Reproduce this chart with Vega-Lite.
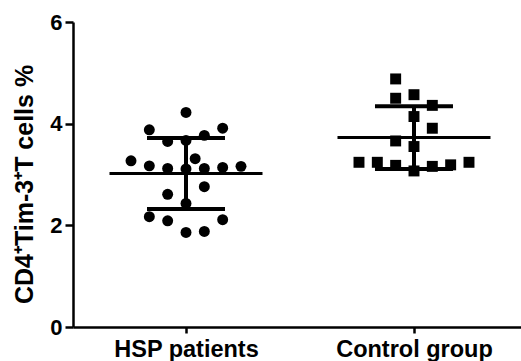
{
  "$schema": "https://vega.github.io/schema/vega-lite/v6.json",
  "width": 448,
  "height": 305,
  "autosize": {"type": "none"},
  "padding": {"left": 73, "top": 22, "right": 0, "bottom": 34},
  "background": "white",
  "config": {
    "view": {"stroke": null},
    "font": "Liberation Sans",
    "axis": {"domainColor": "black", "tickColor": "black", "labelColor": "black", "titleColor": "black", "grid": false, "labelFontWeight": "bold", "titleFontWeight": "bold"}
  },
  "data": {"values": [
    {"group": "HSP patients", "value": 4.22, "slot": 0},
    {"group": "HSP patients", "value": 3.88, "slot": -2},
    {"group": "HSP patients", "value": 3.91, "slot": 2},
    {"group": "HSP patients", "value": 3.65, "slot": -1},
    {"group": "HSP patients", "value": 3.67, "slot": 0},
    {"group": "HSP patients", "value": 3.77, "slot": 1},
    {"group": "HSP patients", "value": 3.27, "slot": -3},
    {"group": "HSP patients", "value": 3.17, "slot": -2},
    {"group": "HSP patients", "value": 3.12, "slot": -1},
    {"group": "HSP patients", "value": 3.11, "slot": 0},
    {"group": "HSP patients", "value": 3.31, "slot": 0.5},
    {"group": "HSP patients", "value": 3.12, "slot": 1},
    {"group": "HSP patients", "value": 3.14, "slot": 2},
    {"group": "HSP patients", "value": 3.16, "slot": 3},
    {"group": "HSP patients", "value": 2.61, "slot": -1},
    {"group": "HSP patients", "value": 2.76, "slot": 1},
    {"group": "HSP patients", "value": 2.43, "slot": 0},
    {"group": "HSP patients", "value": 2.17, "slot": -2},
    {"group": "HSP patients", "value": 2.09, "slot": -1},
    {"group": "HSP patients", "value": 1.86, "slot": 0},
    {"group": "HSP patients", "value": 1.88, "slot": 1},
    {"group": "HSP patients", "value": 2.11, "slot": 2},
    {"group": "Control group", "value": 4.88, "slot": -1},
    {"group": "Control group", "value": 4.50, "slot": -1},
    {"group": "Control group", "value": 4.57, "slot": 0},
    {"group": "Control group", "value": 4.36, "slot": 1},
    {"group": "Control group", "value": 4.14, "slot": 0},
    {"group": "Control group", "value": 3.91, "slot": 1},
    {"group": "Control group", "value": 3.66, "slot": -1},
    {"group": "Control group", "value": 3.55, "slot": 0},
    {"group": "Control group", "value": 3.24, "slot": -3},
    {"group": "Control group", "value": 3.24, "slot": -2},
    {"group": "Control group", "value": 3.18, "slot": -1},
    {"group": "Control group", "value": 3.07, "slot": 0},
    {"group": "Control group", "value": 3.16, "slot": 1},
    {"group": "Control group", "value": 3.19, "slot": 2},
    {"group": "Control group", "value": 3.24, "slot": 3}
  ]},
  "encoding": {
    "x": {
      "field": "group", "type": "nominal", "sort": ["HSP patients", "Control group"],
      "scale": {"type": "point", "padding": 0.4825, "align": 0.5136},
      "axis": {"title": null, "labelAngle": 0, "labelFontSize": 23.5, "labelPadding": 4, "tickSize": 6, "tickWidth": 2.5, "domainWidth": 2.5}
    }
  },
  "layer": [
    {
      "mark": {"type": "point", "filled": true, "opacity": 1, "color": "black", "size": 120},
      "encoding": {
        "xOffset": {"field": "slot", "type": "quantitative", "scale": {"domain": [-3, 3], "range": [-55, 55]}},
        "y": {
          "field": "value", "type": "quantitative", "title": "CD4⁺Tim-3⁺T cells %",
          "scale": {"domain": [0, 6], "nice": false},
          "axis": {"values": [0, 2, 4, 6], "titleFontSize": 25, "titlePadding": 12, "titleY": 162, "labelFontSize": 22, "labelPadding": 3, "tickSize": 8, "tickWidth": 2.5, "domainWidth": 2.5}
        },
        "shape": {"field": "group", "type": "nominal", "scale": {"domain": ["HSP patients", "Control group"], "range": ["circle", "square"]}, "legend": null}
      }
    },
    {
      "mark": {"type": "tick", "color": "black", "opacity": 1, "size": 153, "thickness": 3},
      "encoding": {
        "y": {"aggregate": "mean", "field": "value", "type": "quantitative", "title": "CD4⁺Tim-3⁺T cells %"}
      }
    },
    {
      "mark": {"type": "errorbar", "extent": "stdev", "color": "black", "opacity": 1, "rule": {"strokeWidth": 4, "opacity": 1}, "ticks": {"size": 78, "thickness": 4, "color": "black", "opacity": 1}},
      "encoding": {
        "y": {"field": "value", "type": "quantitative", "title": "CD4⁺Tim-3⁺T cells %"}
      }
    }
  ]
}
